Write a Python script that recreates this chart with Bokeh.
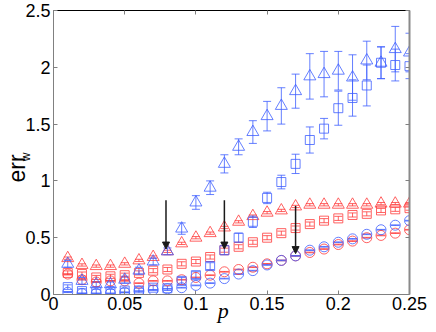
import math
from bokeh.plotting import figure
from bokeh.models import (ColumnDataSource, Whisker, TeeHead, Arrow, NormalHead,
                          LinearAxis, FixedTicker, Range1d)
from bokeh.embed import file_html
from bokeh.resources import INLINE

# ---------------- data ----------------
p_vals = [0.01, 0.02, 0.03, 0.04, 0.05, 0.06, 0.07, 0.08, 0.09, 0.10, 0.11, 0.12, 0.13,
          0.14, 0.15, 0.16, 0.17, 0.18, 0.19, 0.20, 0.21, 0.22, 0.23, 0.24, 0.25]

red_tri = [0.32, 0.26, 0.25, 0.25, 0.27, 0.30, 0.33, 0.38, 0.45, 0.50, 0.54, 0.59, 0.64,
           0.69, 0.72, 0.74, 0.775, 0.79, 0.79, 0.79, 0.79, 0.79, 0.80, 0.80, 0.80]
red_sq = [0.19, 0.18, 0.15, 0.16, 0.17, 0.19, 0.21, 0.22, 0.27, 0.29, 0.33, 0.39, 0.42,
          0.46, 0.50, 0.54, 0.585, 0.62, 0.65, 0.67, 0.70, 0.71, 0.74, 0.75, 0.76]
red_circ = [0.18, 0.13, 0.11, 0.12, 0.12, 0.10, 0.12, 0.12, 0.13, 0.15, 0.17, 0.20, 0.22,
            0.24, 0.27, 0.30, 0.34, 0.37, 0.40, 0.44, 0.47, 0.50, 0.52, 0.54, 0.57]

blue_tri = [0.27, 0.12, 0.09, 0.09, 0.13, 0.21, 0.29, 0.38, 0.58, 0.81, 0.94, 1.15, 1.30,
            1.43, 1.57, 1.66, 1.79, 1.92, 1.94, 1.97, 1.91, 2.06, 2.04, 2.16, 2.13]
blue_tri_err = [0.03, 0.03, 0.02, 0.02, 0.03, 0.03, 0.03, 0.03, 0.05, 0.06, 0.06, 0.08, 0.07,
                0.10, 0.13, 0.16, 0.15, 0.20, 0.20, 0.17, 0.20, 0.17, 0.14, 0.20, 0.17]
blue_sq = [0.065, 0.03, 0.025, 0.025, 0.035, 0.035, 0.06, 0.055, 0.12, 0.17, 0.25, 0.39, 0.50,
           0.64, 0.85, 0.99, 1.15, 1.36, 1.46, 1.64, 1.73, 1.84, 2.04, 2.02, 2.01]
blue_sq_err = [0.02, 0.02, 0.02, 0.02, 0.02, 0.02, 0.02, 0.02, 0.03, 0.03, 0.03, 0.04, 0.04,
               0.05, 0.05, 0.06, 0.085, 0.115, 0.09, 0.15, 0.16, 0.18, 0.14, 0.14, 0.11]
blue_circ = [0.02, 0.01, 0.01, 0.01, 0.02, 0.03, 0.04, 0.05, 0.06, 0.08, 0.10, 0.14, 0.18,
             0.21, 0.26, 0.30, 0.34, 0.39, 0.42, 0.46, 0.49, 0.53, 0.57, 0.61, 0.65]

red_tri_err = [0.01, 0.01, 0.01, 0.01, 0.01, 0.01, 0.01, 0.01, 0.01, 0.01, 0.01, 0.01, 0.01,
               0.01, 0.01, 0.01, 0.01, 0.01, 0.01, 0.01, 0.01, 0.01, 0.01, 0.01, 0.01]
red_sq_err = [0.018, 0.018, 0.018, 0.018, 0.018, 0.018, 0.018, 0.018, 0.018, 0.018, 0.018, 0.018, 0.018,
              0.018, 0.018, 0.018, 0.018, 0.018, 0.018, 0.018, 0.018, 0.018, 0.018, 0.018, 0.018]
circ_err = [0.003, 0.003, 0.003, 0.003, 0.003, 0.003, 0.003, 0.003, 0.003, 0.003, 0.003, 0.003, 0.003,
            0.003, 0.003, 0.003, 0.003, 0.003, 0.003, 0.003, 0.003, 0.003, 0.003, 0.003, 0.003]

arrow_x = [0.079, 0.120, 0.170]
arrow_from = [0.83, 0.83, 0.78]
arrow_to = [0.40, 0.40, 0.36]

x_ticks = [0, 0.05, 0.1, 0.15, 0.2, 0.25]
x_tick_labels = ["0", "0.05", "0.1", "0.15", "0.2", "0.25"]
y_ticks = [0, 0.5, 1, 1.5, 2, 2.5]
y_tick_labels = ["0", "0.5", "1", "1.5", "2", "2.5"]

RED = "#ff3b3b"
BLUE = "#3f5fff"
FONT = "Liberation Sans"
NB = "\u00a0"
SUB_POS = 1.25   # where the subscript of the y label sits, in axis units

p = figure(width=436, height=332, x_range=Range1d(0, 0.25), y_range=Range1d(0, 2.5),
           output_backend="svg", toolbar_location=None,
           min_border_left=47, min_border_right=27, min_border_top=10, min_border_bottom=38)
p.grid.visible = False
p.outline_line_color = None
p.background_fill_color = "white"
p.border_fill_color = "white"


def style_axis(ax, color, width=1):
    ax.axis_line_color = color
    ax.axis_line_width = width
    ax.major_tick_line_color = "#808080"
    ax.major_tick_in = 4
    ax.major_tick_out = 0
    ax.minor_tick_line_color = None


xa = p.xaxis[0]
ya = p.yaxis[0]
style_axis(xa, "#808080")
style_axis(ya, "#808080")
xa.ticker = FixedTicker(ticks=x_ticks)
ya.ticker = FixedTicker(ticks=y_ticks)
xa.major_label_overrides = {t: s for t, s in zip(x_ticks, x_tick_labels)}
ya.major_label_overrides = {t: s for t, s in zip(y_ticks, y_tick_labels)}
for ax in (xa, ya):
    ax.major_label_text_font = FONT
    ax.major_label_text_font_size = "18px"
    ax.major_label_text_color = "black"
xa.major_label_standoff = 2
ya.major_label_standoff = 3

# x label "p"
xa.axis_label = "p" + NB * 3
xa.axis_label_text_font = "Liberation Serif"
xa.axis_label_text_font_style = "italic"
xa.axis_label_text_font_size = "22px"
xa.axis_label_text_color = "black"
xa.axis_label_standoff = -15

# y label "err" with subscript "w" (the subscript is a rotated tick label of a label-only axis)
err_ax = LinearAxis(ticker=FixedTicker(ticks=[SUB_POS]), axis_line_color=None,
                    major_tick_line_color=None, minor_tick_line_color=None,
                    major_tick_in=0, major_tick_out=0, major_label_standoff=-3,
                    major_label_overrides={SUB_POS: "w"}, major_label_orientation=math.pi / 2,
                    major_label_text_font=FONT, major_label_text_font_size="12px",
                    major_label_text_color="black",
                    axis_label="err" + NB * 5, axis_label_text_font=FONT,
                    axis_label_text_font_style="normal", axis_label_text_font_size="23px",
                    axis_label_text_color="black", axis_label_standoff=-21)
p.add_layout(err_ax, "left")

top_ax = LinearAxis(ticker=FixedTicker(ticks=x_ticks), major_label_text_font_size="1px",
                    major_label_standoff=0,
                    major_label_overrides={t: "" for t in x_ticks})
style_axis(top_ax, "black")
right_ax = LinearAxis(ticker=FixedTicker(ticks=y_ticks), major_label_text_font_size="1px",
                      major_label_standoff=0,
                      major_label_overrides={t: "" for t in y_ticks})
style_axis(right_ax, "#8a8a8a", 2)
p.add_layout(top_ax, "above")
p.add_layout(right_ax, "right")


def series(vals, errs, color, marker, size, cap, alpha=0.8):
    src = ColumnDataSource(dict(x=p_vals, y=vals,
                                lo=[v - e for v, e in zip(vals, errs)],
                                hi=[v + e for v, e in zip(vals, errs)]))
    w = Whisker(source=src, base="x", upper="hi", lower="lo", dimension="height",
                line_color=color, line_alpha=alpha, line_width=1,
                upper_head=TeeHead(size=cap, line_color=color, line_alpha=alpha, line_width=1),
                lower_head=TeeHead(size=cap, line_color=color, line_alpha=alpha, line_width=1))
    p.add_layout(w)
    p.scatter("x", "y", source=src, marker=marker, size=size, fill_color=None,
              line_color=color, line_alpha=alpha, line_width=1)


series(red_circ, circ_err, RED, "circle", 10, 9)
series(red_sq, red_sq_err, RED, "square", 9, 8)
series(red_tri, red_tri_err, RED, "triangle", 12, 8)
series(blue_circ, circ_err, BLUE, "circle", 10, 9)
series(blue_sq, blue_sq_err, BLUE, "square", 9, 8)
series(blue_tri, blue_tri_err, BLUE, "triangle", 12, 8)

arr_src = ColumnDataSource(dict(x=arrow_x, y0=arrow_from, y1=arrow_to))
p.add_layout(Arrow(source=arr_src, x_start="x", y_start="y0", x_end="x", y_end="y1",
                   line_color="#1a1a1a", line_width=1.5,
                   end=NormalHead(size=7, fill_color="#1a1a1a", line_color="#1a1a1a")))

open("out.html", "w").write(file_html(p, INLINE))
